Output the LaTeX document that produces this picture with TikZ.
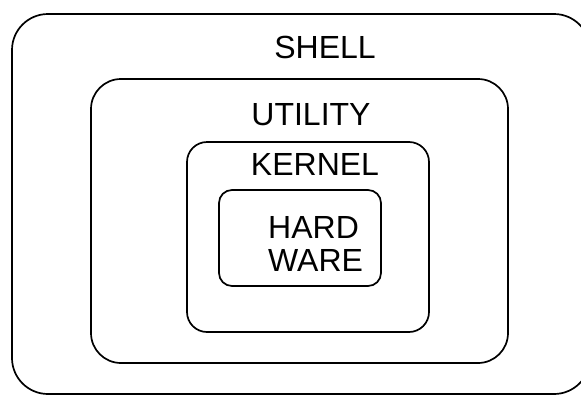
\documentclass[tikz,border=0pt]{standalone}
\usepackage{fontspec}
\setmainfont{Liberation Sans}

\tikzset{
    layer/.style = {draw, line width=1.7pt, rounded corners=#1},
    layername/.style = {font=\fontsize{32}{33}\selectfont, inner sep=0pt, align=left}
}

\begin{document}
\begin{tikzpicture}[x=1pt, y=-1pt]
        \useasboundingbox (0,0) rectangle (581,394);
        % nested layers
        \draw[layer=36pt] (12,14) rectangle (590,394);
        \draw[layer=30pt] (91,79) rectangle (508,363);
        \draw[layer=20pt] (187,142) rectangle (429,332);
        \draw[layer=13pt] (219,190) rectangle (381,286);
        % names
        \node[layername, anchor=base] (shell) at (325,58) {SHELL};
        \node[layername, anchor=base] (utility) at (311,125) {UTILITY};
        \node[layername, anchor=base] (kernel) at (315,175) {KERNEL};
        \node[layername, anchor=west] (hardware) at (268,243.5) {HARD\\WARE};
    \end{tikzpicture}
\end{document}
